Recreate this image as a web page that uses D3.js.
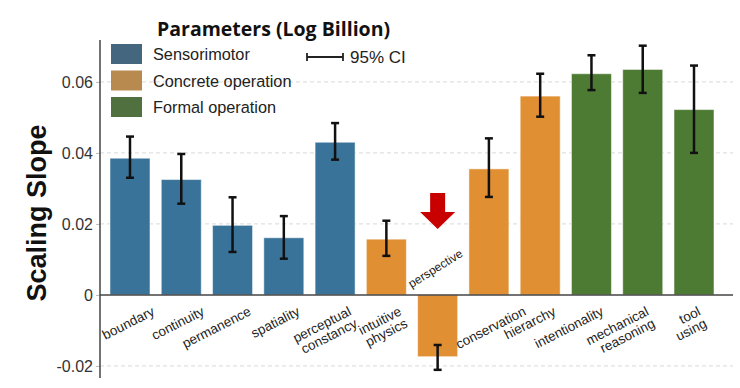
<!DOCTYPE html>
<html>
<head>
<meta charset="utf-8">
<script src="https://cdn.jsdelivr.net/npm/d3@7"></script>
<style>
  body { margin: 0; background: #fff; }
  svg { display: block; }
</style>
</head>
<body>
<svg width="740" height="388"></svg>
<script>
// data
const categories = ['boundary', 'continuity', 'permanence', 'spatiality', 'perceptual\nconstancy',
  'intuitive\nphysics', 'perspective', 'conservation', 'hierarchy', 'intentionality',
  'mechanical\nreasoning', 'tool\nusing'];
const stageOf = [0, 0, 0, 0, 0, 1, 1, 1, 1, 2, 2, 2];
const slopes = [0.0385, 0.0325, 0.0196, 0.0161, 0.0430, 0.0157, -0.0174, 0.0355, 0.0560, 0.0623, 0.0635, 0.0522];
const ciLow = [0.0330, 0.0257, 0.0121, 0.0102, 0.0381, 0.0110, -0.0211, 0.0276, 0.0502, 0.0577, 0.0569, 0.0400];
const ciHigh = [0.0446, 0.0397, 0.0275, 0.0222, 0.0484, 0.0209, -0.0141, 0.0441, 0.0623, 0.0675, 0.0702, 0.0646];
const stages = ['Sensorimotor', 'Concrete operation', 'Formal operation'];
const yTicks = [-0.02, 0, 0.02, 0.04, 0.06];

const barColors = ['#3a739a', '#e08f33', '#4e7b33'];
const swatchColors = ['#44677f', '#b98a4f', '#51703f'];
// the tick labels in the original were nudged by hand
const labelDx = [25.5, 24, 19.5, 17, 17, 16, 0, 38, 16.5, 13, 7, 7.5];

const svg = d3.select('svg');
const font = "'Liberation Sans', Arial, sans-serif";

const y = d3.scaleLinear().domain([-0.0234, 0.0718]).range([378, 40]);
const x = d3.scaleBand().domain(categories).range([110, 714]).paddingInner(0.22).paddingOuter(0);

// grid
svg.append('g').selectAll('line')
  .data(yTicks.filter(d => d !== 0))
  .join('line')
  .attr('x1', 100).attr('x2', 733)
  .attr('y1', d => y(d)).attr('y2', d => y(d))
  .attr('stroke', '#d9d9d9')
  .attr('stroke-dasharray', '4,3');

// y axis ticks + labels
const yAxis = svg.append('g')
  .attr('transform', 'translate(100,0)')
  .call(d3.axisLeft(y).tickValues(yTicks).tickSize(4).tickPadding(3)
    .tickFormat(d => d === 0 ? '0' : d3.format('.2f')(d).replace('\u2212', '-')));
yAxis.select('.domain').remove();
yAxis.selectAll('line').attr('stroke', '#bbb');
yAxis.selectAll('text')
  .attr('font-family', font)
  .attr('font-size', 16)
  .attr('fill', '#333');

// bars
const idx = d3.range(categories.length);
svg.append('g').selectAll('rect')
  .data(idx)
  .join('rect')
  .attr('x', i => x(categories[i]))
  .attr('width', x.bandwidth())
  .attr('y', i => y(Math.max(0, slopes[i])))
  .attr('height', i => Math.abs(y(slopes[i]) - y(0)))
  .attr('fill', i => barColors[stageOf[i]])
  .attr('stroke', 'rgba(255,255,255,0.5)')
  .attr('stroke-width', 1);

// error bars
const eb = svg.append('g').attr('stroke', '#111').attr('stroke-width', 2.5);
idx.forEach(i => {
  const cx = x(categories[i]) + x.bandwidth() / 2;
  eb.append('line').attr('x1', cx).attr('x2', cx).attr('y1', y(ciLow[i])).attr('y2', y(ciHigh[i]));
  eb.append('line').attr('x1', cx - 4).attr('x2', cx + 4).attr('y1', y(ciLow[i])).attr('y2', y(ciLow[i]));
  eb.append('line').attr('x1', cx - 4).attr('x2', cx + 4).attr('y1', y(ciHigh[i])).attr('y2', y(ciHigh[i]));
});

// axis lines
svg.append('line')
  .attr('x1', 100).attr('x2', 733).attr('y1', y(0)).attr('y2', y(0))
  .attr('stroke', '#444').attr('stroke-width', 1.5);
svg.append('line')
  .attr('x1', 100).attr('x2', 100).attr('y1', 40).attr('y2', 378)
  .attr('stroke', '#444').attr('stroke-width', 1.5);

// category labels
idx.forEach(i => {
  const cx = x(categories[i]) + x.bandwidth() / 2;
  const lines = categories[i].split('\n');
  let t;
  if (slopes[i] < 0) {
    t = svg.append('text')
      .attr('transform', `translate(${cx},${y(0) - 23}) rotate(-32)`)
      .attr('text-anchor', 'middle')
      .attr('font-size', 12);
  } else {
    t = svg.append('text')
      .attr('transform', `translate(${cx + labelDx[i]},${y(0) + 19.5}) rotate(-27)`)
      .attr('text-anchor', 'end')
      .attr('font-size', 13.5);
  }
  t.attr('font-family', font).attr('fill', '#222');
  lines.forEach((s, k) => {
    t.append('tspan').attr('x', 0).attr('dy', k === 0 ? 0 : '1.0em').text(s);
  });
});

// red arrow above the perspective bar
const ax = x('perspective') + x.bandwidth() / 2;
svg.append('path')
  .attr('d', `M${ax - 7.5},193 L${ax + 7.5},193 L${ax + 7.5},212 L${ax + 17.5},212 L${ax},229 L${ax - 17.5},212 L${ax - 7.5},212 Z`)
  .attr('fill', '#c80000');

// y axis title
svg.append('text')
  .attr('transform', 'translate(46,213) rotate(-90)')
  .attr('text-anchor', 'middle')
  .attr('font-family', font)
  .attr('font-weight', 'bold')
  .attr('font-size', 27)
  .attr('fill', '#111')
  .text('Scaling Slope');

// legend
svg.append('text')
  .attr('x', 157).attr('y', 36)
  .attr('font-family', "'Open Sans', sans-serif")
  .attr('font-weight', 'bold')
  .attr('font-size', 19.5)
  .attr('fill', '#111')
  .text('Parameters (Log Billion)');

const lg = svg.append('g');
stages.forEach((s, k) => {
  lg.append('rect')
    .attr('x', 111).attr('y', 44 + k * 26.5)
    .attr('width', 31).attr('height', 20)
    .attr('fill', swatchColors[k]);
  lg.append('text')
    .attr('x', 153).attr('y', 60 + k * 26.5)
    .attr('font-family', font)
    .attr('font-size', 16.3)
    .attr('fill', '#222')
    .text(s);
});

// CI key
const ck = svg.append('g').attr('stroke', '#222').attr('stroke-width', 1.8);
ck.append('line').attr('x1', 307).attr('x2', 343).attr('y1', 57).attr('y2', 57);
ck.append('line').attr('x1', 307).attr('x2', 307).attr('y1', 53).attr('y2', 61);
ck.append('line').attr('x1', 343).attr('x2', 343).attr('y1', 53).attr('y2', 61);
svg.append('text')
  .attr('x', 350).attr('y', 63)
  .attr('font-family', font)
  .attr('font-size', 17)
  .attr('fill', '#222')
  .text('95% CI');
</script>
</body>
</html>
